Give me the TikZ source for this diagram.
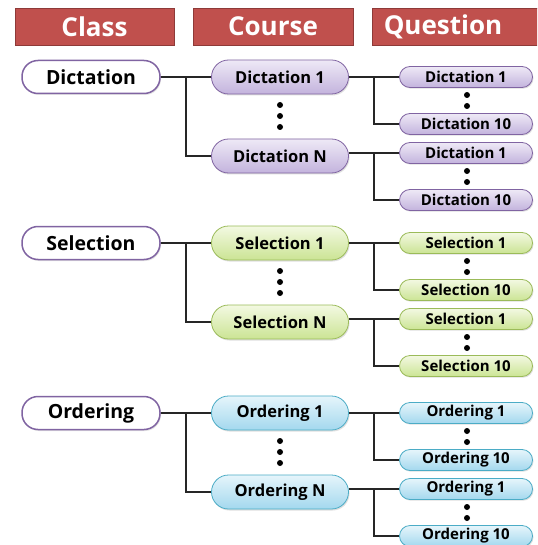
\documentclass[tikz,border=0pt]{standalone}
\usepackage{fontspec}
\setmainfont{Open Sans}
\usetikzlibrary{shadows,calc}
\definecolor{hdr}{HTML}{C0504D}
\definecolor{hdrdraw}{HTML}{8E3A38}
\definecolor{PTop}{HTML}{EEE9F6}
\definecolor{PBot}{HTML}{C3B3DD}
\definecolor{PDraw}{HTML}{8064A2}
\definecolor{GTop}{HTML}{F3F9E2}
\definecolor{GBot}{HTML}{CBE494}
\definecolor{GDraw}{HTML}{9BBB59}
\definecolor{BTop}{HTML}{E6F5FB}
\definecolor{BBot}{HTML}{A3D8EE}
\definecolor{BDraw}{HTML}{4BACC6}
\tikzset{
  hbox/.style={fill=hdr, draw=hdrdraw, line width=0.8pt, minimum height=37pt, text=white, font=\fontsize{26}{30}\selectfont\bfseries, inner sep=0pt},
  htext/.style={text=white, font=\fontsize{26}{30}\selectfont\bfseries, inner sep=0pt},
  clsbox/.style={draw=PDraw, fill=white, line width=1.5pt, rounded corners=16pt, minimum width=138pt, minimum height=33pt, inner sep=0pt, font=\fontsize{19.5}{23}\selectfont\bfseries,
    drop shadow={opacity=0.2, shadow xshift=1pt, shadow yshift=-1.5pt}},
  coursebox/.style={draw=#1Draw, top color=#1Top, bottom color=#1Bot, line width=0.8pt, rounded corners=17pt, minimum width=137pt, minimum height=34pt, inner sep=0pt, font=\fontsize{16.5}{19}\selectfont\bfseries,
    drop shadow={opacity=0.25, shadow xshift=1pt, shadow yshift=-1.5pt}},
  qbox/.style={draw=#1Draw, top color=#1Top, bottom color=#1Bot, line width=0.8pt, rounded corners=10.5pt, minimum width=133pt, minimum height=21pt, inner sep=0pt, font=\fontsize{15}{17}\selectfont\bfseries,
    drop shadow={opacity=0.25, shadow xshift=1pt, shadow yshift=-1.2pt}},
  conn/.style={line width=1.3pt, draw=black!85},
  dotmark/.style={circle, fill=black, inner sep=0pt, minimum size=6pt}
}
\begin{document}
\begin{tikzpicture}[x=1pt,y=-1pt]
\useasboundingbox (0,0) rectangle (537,545);
\fill[white] (0,0) rectangle (537,545);
\begin{scope}
\clip (0,0) rectangle (537,545);
\node[hbox, minimum width=159pt] (h1) at (94.5,26.5) {Class};
\node[hbox, minimum width=160pt] (h2) at (273,26.5) {Course};
\filldraw[fill=hdr, draw=hdrdraw, line width=0.8pt] (372,8) rectangle (545,45);
\node[htext] (h3) at (443,26.5) {Question};
\foreach \g/\y/\nm/\col in {d/77/Dictation/P, s/243/Selection/G, o/413/Ordering/B}{
  % nodes
  \node[clsbox] (c\g) at (91,\y) {\nm};
  \node[coursebox=\col] (ka\g) at (280,\y) {\nm{} 1};
  \node[coursebox=\col] (kb\g) at (280,\y+79) {\nm{} N};
  \node[qbox=\col] (qa\g) at (466,\y) {\nm{} 1};
  \node[qbox=\col] (qb\g) at (466,\y+47) {\nm{} 10};
  \node[qbox=\col] (qc\g) at (466,\y+76) {\nm{} 1};
  \node[qbox=\col] (qd\g) at (466,\y+123) {\nm{} 10};
  % dots
  \node[dotmark] (da\g) at (280,\y+28) {};
  \node[dotmark] (db\g) at (280,\y+39) {};
  \node[dotmark] (dc\g) at (280,\y+50) {};
  \node[dotmark] (dd\g) at (467,\y+18) {};
  \node[dotmark] (de\g) at (467,\y+29) {};
  \node[dotmark] (df\g) at (467,\y+94) {};
  \node[dotmark] (dg\g) at (467,\y+105) {};
  % connectors
  \coordinate (t\g) at (186,\y);
  \coordinate (u\g) at (374,\y);
  \coordinate (v\g) at (374,\y+76);
  \draw[conn] (c\g.east) -- (ka\g.west);
  \draw[conn] (t\g) |- (kb\g.west);
  \draw[conn] (ka\g.east) -- (qa\g.west);
  \draw[conn] (u\g) |- (qb\g.west);
  \draw[conn] (qc\g.west) -- (qc\g.west -| kb\g.east);
  \draw[conn] (v\g) |- (qd\g.west);
}
\end{scope}
\end{tikzpicture}
\end{document}
